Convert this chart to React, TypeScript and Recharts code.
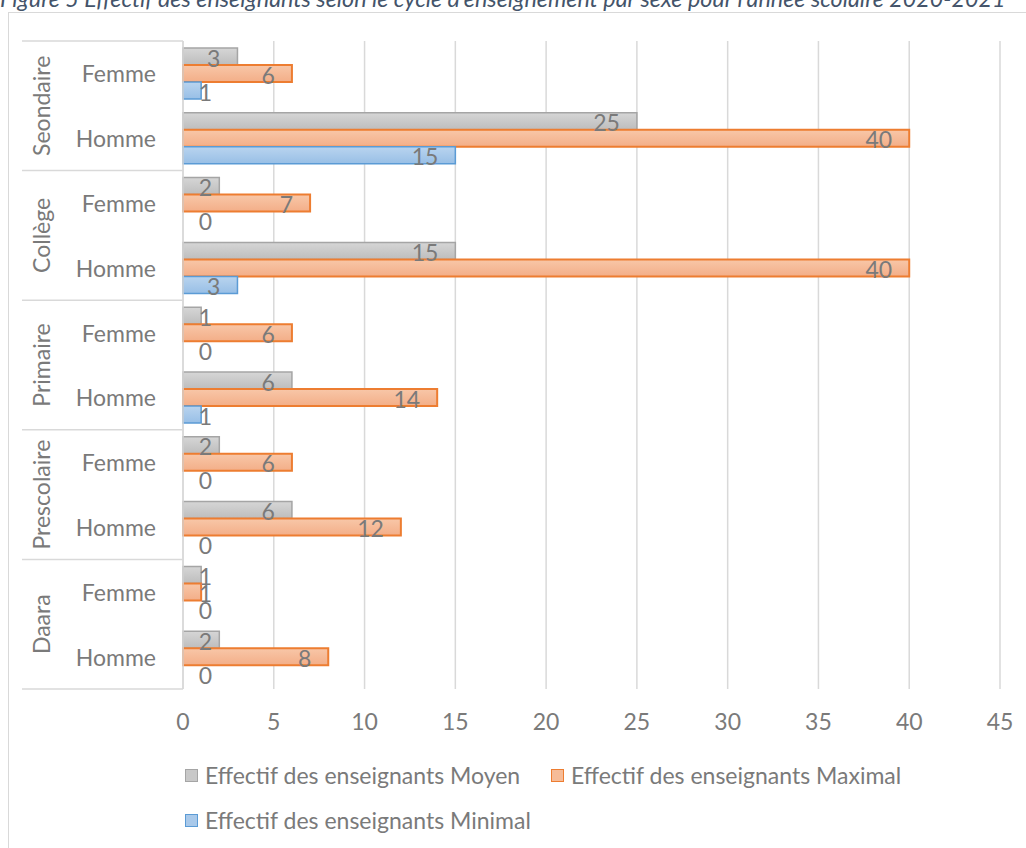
// Effectif des enseignants par cycle et par sexe - horizontal grouped bars
import { BarChart, Bar, XAxis, YAxis, CartesianGrid, LabelList, Rectangle } from 'recharts';

const cycles = ['Seondaire', 'Collège', 'Primaire', 'Prescolaire', 'Daara'];
const sexes = ['Femme', 'Homme'];
const moyen = [3, 25, 2, 15, 1, 6, 2, 6, 1, 2];
const maximal = [6, 40, 7, 40, 6, 14, 6, 12, 1, 8];
const minimal = [1, 15, 0, 3, 0, 1, 0, 0, 0, 0];
const xTicks = [0, 5, 10, 15, 20, 25, 30, 35, 40, 45];

const TITLE = "Figure 5 Effectif des enseignants selon le cycle d'enseignement par sexe pour l'année scolaire 2020-2021";
const FONT = 'Lato, "Open Sans", sans-serif';
const TEXT = '#7a7a7a';
const GRID = '#d9d9d9';
const FS = 23;

const PLOT_TOP = 41;
const PLOT_BOTTOM = 689;
const PLOT_LEFT = 183;
const BAND = (PLOT_BOTTOM - PLOT_TOP) / (cycles.length * sexes.length);

const data = cycles.flatMap((cycle, ci) =>
  sexes.map((sexe, si) => {
    const i = ci * sexes.length + si;
    return {
      key: `${cycle}-${sexe}`,
      cycle,
      sexe,
      moyen: moyen[i],
      maximal: maximal[i],
      minimal: minimal[i]
    };
  })
);

const byKey: Record<string, (typeof data)[number]> = {};
data.forEach(d => { byKey[d.key] = d; });

function CategoryTick(props: any) {
  const { y, payload } = props;
  const row = byKey[payload.value];
  if (!row) return null;
  const first = row.sexe === sexes[0];
  const last = row.key === data[data.length - 1].key;
  return (
    <g>
      <text x={156} y={y} textAnchor="end" dominantBaseline="central" fill={TEXT} fontSize={FS} fontFamily={FONT}>
        {row.sexe}
      </text>
      {first && (
        <>
          <line x1={22} x2={PLOT_LEFT} y1={y - BAND / 2} y2={y - BAND / 2} stroke={GRID} strokeWidth={1.5} />
          <text
            x={41}
            y={y + BAND / 2}
            textAnchor="middle"
            dominantBaseline="central"
            fill={TEXT}
            fontSize={FS}
            fontFamily={FONT}
            transform={`rotate(-90 41 ${y + BAND / 2})`}
          >
            {row.cycle}
          </text>
        </>
      )}
      {last && (
        <line x1={22} x2={PLOT_LEFT} y1={y + BAND / 2} y2={y + BAND / 2} stroke={GRID} strokeWidth={1.5} />
      )}
    </g>
  );
}

function ValueLabel(props: any) {
  const { x, y, width, height, value } = props;
  const end = x + width;
  const right = Math.max(end - 17, PLOT_LEFT + 29);
  return (
    <text x={right} y={y + height / 2 + 1} textAnchor="end" dominantBaseline="central" fill={TEXT} fontSize={FS} fontFamily={FONT}>
      {value}
    </text>
  );
}

// zero values keep their label but draw no rectangle
const barShape = (key: string) => (props: any) =>
  props.payload && props.payload[key] === 0 ? <g /> : <Rectangle {...props} />;

const LEGEND = [
  { label: 'Effectif des enseignants Moyen', fill: '#c8c8c8', stroke: '#a5a5a5', left: 185, top: 775 },
  { label: 'Effectif des enseignants Maximal', fill: '#f6bc98', stroke: '#ed7d31', left: 551, top: 775 },
  { label: 'Effectif des enseignants Minimal', fill: '#a9c9ea', stroke: '#5b9bd5', left: 185, top: 820 }
];

export default function App() {
  return (
    <div style={{ position: 'absolute', left: 0, top: 0, width: 1026, height: 848, overflow: 'hidden', background: '#fff', fontFamily: FONT }}>
      <div style={{
        position: 'absolute', left: 0, top: -13.5, fontSize: 23.3, lineHeight: '23.3px',
        fontStyle: 'italic', color: '#44546a', whiteSpace: 'nowrap'
      }}>
        {TITLE}
      </div>
      <div style={{ position: 'absolute', left: 8, top: 12, width: 1100, height: 900, border: `1px solid ${GRID}` }} />
      <div style={{ position: 'absolute', left: 0, top: 0 }}>
        <BarChart
          width={1026}
          height={848}
          data={data}
          layout="vertical"
          margin={{ top: PLOT_TOP, right: 1026 - 1000, left: 0, bottom: 848 - PLOT_BOTTOM - 60 }}
          barCategoryGap={7}
          barGap={0}
        >
          <defs>
            <linearGradient id="gGray" x1="0" y1="0" x2="0" y2="1">
              <stop offset="0%" stopColor="#d6d6d6" />
              <stop offset="100%" stopColor="#bdbdbd" />
            </linearGradient>
            <linearGradient id="gOrange" x1="0" y1="0" x2="0" y2="1">
              <stop offset="0%" stopColor="#f8c7a8" />
              <stop offset="100%" stopColor="#f3ae88" />
            </linearGradient>
            <linearGradient id="gBlue" x1="0" y1="0" x2="0" y2="1">
              <stop offset="0%" stopColor="#b9d4ef" />
              <stop offset="100%" stopColor="#98bfe6" />
            </linearGradient>
          </defs>
          <CartesianGrid horizontal={false} stroke={GRID} strokeWidth={1.5} />
          <XAxis
            type="number"
            domain={[0, 45]}
            ticks={xTicks}
            axisLine={false}
            tickLine={false}
            height={60}
            tick={{ fill: TEXT, fontSize: FS, fontFamily: FONT, dy: 17 }}
            interval={0}
          />
          <YAxis
            type="category"
            dataKey="key"
            width={PLOT_LEFT}
            axisLine={{ stroke: GRID, strokeWidth: 1.5 }}
            tickLine={false}
            tick={<CategoryTick />}
            interval={0}
          />
          <Bar dataKey="moyen" fill="url(#gGray)" stroke="#a5a5a5" strokeWidth={1.5} minPointSize={1} shape={barShape('moyen')} isAnimationActive={false}>
            <LabelList dataKey="moyen" content={<ValueLabel />} />
          </Bar>
          <Bar dataKey="maximal" fill="url(#gOrange)" stroke="#ed7d31" strokeWidth={2} minPointSize={1} shape={barShape('maximal')} isAnimationActive={false}>
            <LabelList dataKey="maximal" content={<ValueLabel />} />
          </Bar>
          <Bar dataKey="minimal" fill="url(#gBlue)" stroke="#5b9bd5" strokeWidth={1.5} minPointSize={1} shape={barShape('minimal')} isAnimationActive={false}>
            <LabelList dataKey="minimal" content={<ValueLabel />} />
          </Bar>
        </BarChart>
      </div>
      {LEGEND.map(item => (
        <div key={item.label} style={{ position: 'absolute', left: item.left, top: item.top - 13, height: 26, display: 'flex', alignItems: 'center', color: TEXT, fontSize: FS, whiteSpace: 'nowrap' }}>
          <span style={{ display: 'inline-block', width: 11, height: 11, background: item.fill, border: `1.5px solid ${item.stroke}`, marginRight: 7 }} />
          {item.label}
        </div>
      ))}
    </div>
  );
}
